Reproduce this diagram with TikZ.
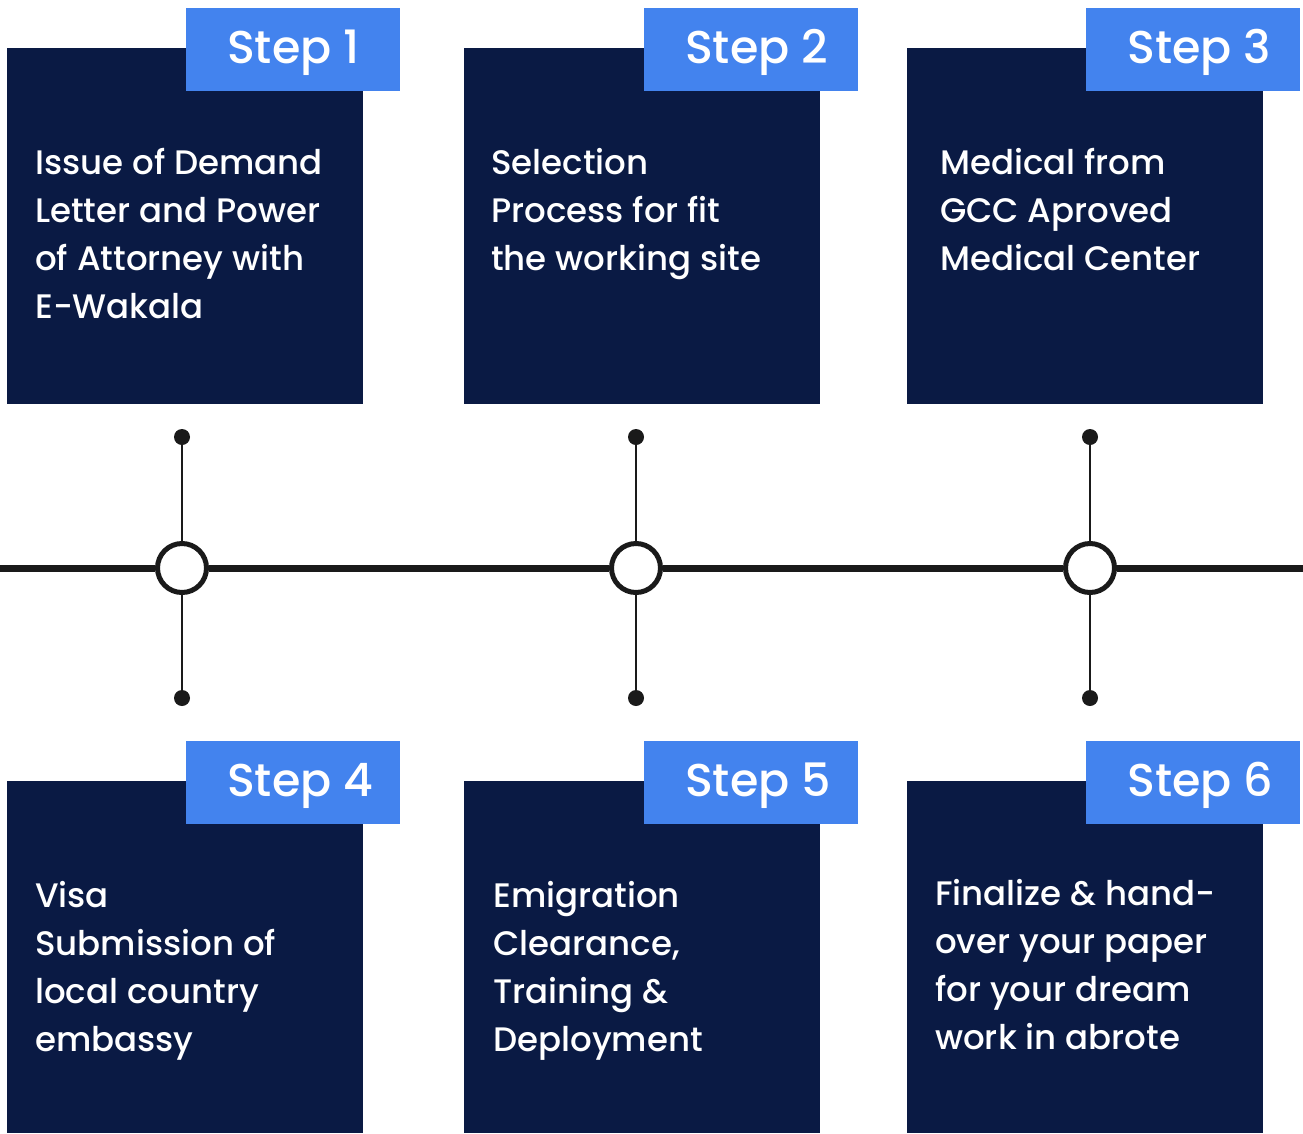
\documentclass[tikz,border=0pt]{standalone}
\usepackage{fontspec}
\setmainfont{Poppins Medium}
\definecolor{navy}{HTML}{0A1A44}
\definecolor{tabblue}{HTML}{4383EE}
\definecolor{ink}{HTML}{1A1A1A}
\begin{document}
\begin{tikzpicture}[x=1pt,y=-1pt,
  card/.style={fill=navy,draw=none,minimum width=356pt,minimum height=356pt,anchor=north west,inner sep=0},
  tab/.style={fill=tabblue,draw=none,minimum width=214pt,minimum height=83pt,anchor=north west,inner sep=0},
  steptext/.style={text=white,inner sep=0,anchor=west,font=\fontsize{46}{50}\selectfont},
  body/.style={text=white,align=left,anchor=base west,inner sep=0,font=\fontsize{34}{48}\selectfont},
  hub/.style={circle,draw=ink,line width=5pt,fill=white,minimum size=49pt,inner sep=0},
  pin/.style={circle,fill=ink,minimum size=16pt,inner sep=0},
  stem/.style={draw=ink,line width=2.5pt},
  axis/.style={draw=ink,line width=7pt}]
\useasboundingbox (0,0) rectangle (1303,1133);
% cards
\node[card] (b1) at (7,48) {};
\node[card] (b2) at (464,48) {};
\node[card] (b3) at (907,48) {};
\node[card,minimum height=352pt] (b4) at (7,781) {};
\node[card,minimum height=352pt] (b5) at (464,781) {};
\node[card,minimum height=352pt] (b6) at (907,781) {};
% tabs
\node[tab] (t1) at (186,8) {};
\node[tab] (t2) at (644,8) {};
\node[tab] (t3) at (1086,8) {};
\node[tab] (t4) at (186,741) {};
\node[tab] (t5) at (644,741) {};
\node[tab] (t6) at (1086,741) {};
\foreach \i in {1,...,6}{
  \node[steptext] (s\i) at ([xshift=41pt,yshift=-3pt]t\i.west) {Step \i};
}
% texts (anchored at the baseline of the last line)
\node[body] (x1) at (35,318) {Issue of Demand\\Letter and Power\\of Attorney with\\E-Wakala};
\node[body] (x2) at (491,270) {Selection\\Process for fit\\the working site};
\node[body] (x3) at (940,270) {Medical from\\GCC Aproved\\Medical Center};
\node[body] (x4) at (35,1051) {Visa\\Submission of\\local country\\embassy};
\node[body] (x5) at (493,1051) {Emigration\\Clearance,\\Training \&\\Deployment};
\node[body] (x6) at (935,1049) {Finalize \& hand-\\over your paper\\for your dream\\work in abrote};
% timeline
\coordinate (L) at (0,568);
\coordinate (R) at (1303,568);
\node[hub] (c1) at (182,568) {};
\node[hub] (c2) at (636,568) {};
\node[hub] (c3) at (1090,568) {};
\node[pin] (u1) at (182,437) {};
\node[pin] (u2) at (636,437) {};
\node[pin] (u3) at (1090,437) {};
\node[pin] (v1) at (182,698) {};
\node[pin] (v2) at (636,698) {};
\node[pin] (v3) at (1090,698) {};
\draw[axis] (L) -- (c1) (c1) -- (c2) (c2) -- (c3) (c3) -- (R);
\foreach \i in {1,2,3}{
  \draw[stem] (u\i.center) -- (c\i);
  \draw[stem] (c\i) -- (v\i.center);
}
\end{tikzpicture}
\end{document}
